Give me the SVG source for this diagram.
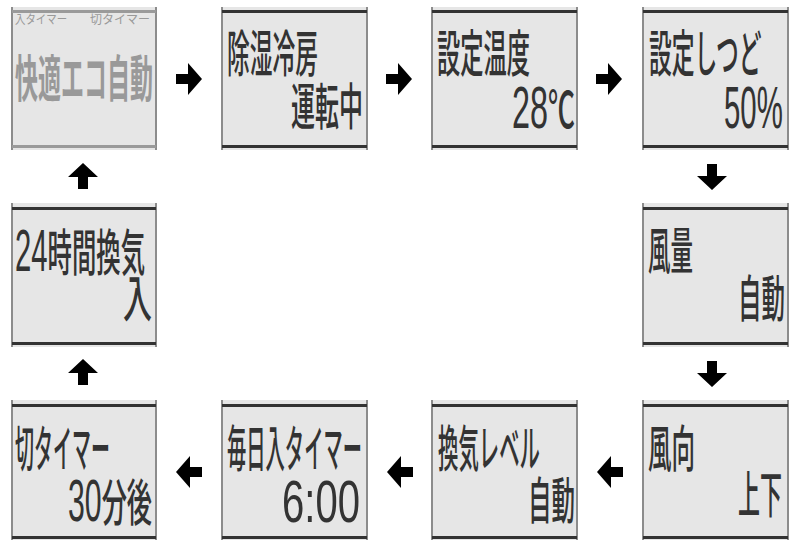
<svg xmlns="http://www.w3.org/2000/svg" width="795" height="540" viewBox="0 0 795 540">
<defs>
<style>
.bg{fill:#e6e6e6}
.side{fill:#8c8c8c}
.bar{fill:#333333}
.bar1{fill:#9a9a9a}
.t{font-family:"Noto Sans CJK JP","Noto Sans",sans-serif;font-size:50px;fill:#333333;font-weight:500}
.t1{font-family:"Noto Sans CJK JP","Noto Sans",sans-serif;font-size:50px;fill:#999999;font-weight:700}
.s{font-family:"Noto Sans CJK JP","Noto Sans",sans-serif;font-size:12px;fill:#999999}
.d{font-family:"Liberation Sans","Noto Sans CJK JP",sans-serif;font-size:60px;font-weight:400}
.arr{fill:#000000}
</style>
</defs>
<rect width="795" height="540" fill="#ffffff"/>

<g id="node-eco">
<rect class="bg" x="12" y="7" width="144" height="143"/>
<rect class="side" x="11" y="7" width="2" height="143"/>
<rect class="side" x="155" y="7" width="2" height="143"/>
<rect class="bar1" x="12" y="10" width="144" height="3"/>
<rect class="bar1" x="12" y="145" width="144" height="3"/>
<text class="s" transform="translate(15,24) scale(0.87,1)">入タイマー</text>
<text class="s" transform="translate(90,24) scale(1.0,1)">切タイマー</text>
<text class="t1" transform="translate(15,97) scale(0.46,1)">快適エコ自動</text>
</g>

<g id="node-dehumid">
<rect class="bg" x="222" y="7" width="145" height="143"/>
<rect class="side" x="221" y="7" width="2" height="143"/>
<rect class="side" x="366" y="7" width="2" height="143"/>
<rect class="bar" x="222" y="10" width="145" height="3"/>
<rect class="bar" x="222" y="145" width="145" height="3"/>
<text class="t" transform="translate(227,72) scale(0.455,1)">除湿冷房</text>
<text class="t" transform="translate(291,125) scale(0.48,1)">運転中</text>
</g>

<g id="node-temp">
<rect class="bg" x="432" y="7" width="145" height="143"/>
<rect class="side" x="431" y="7" width="2" height="143"/>
<rect class="side" x="576" y="7" width="2" height="143"/>
<rect class="bar" x="432" y="10" width="145" height="3"/>
<rect class="bar" x="432" y="145" width="145" height="3"/>
<text class="t" transform="translate(437,72) scale(0.465,1)">設定温度</text>
<text class="t" transform="translate(512,128) scale(0.54,1)"><tspan class="d">28</tspan>℃</text>
</g>

<g id="node-humid">
<rect class="bg" x="643" y="7" width="145" height="143"/>
<rect class="side" x="642" y="7" width="2" height="143"/>
<rect class="side" x="787" y="7" width="2" height="143"/>
<rect class="bar" x="643" y="10" width="145" height="3"/>
<rect class="bar" x="643" y="145" width="145" height="3"/>
<text class="t" transform="translate(649,72) scale(0.456,1)">設定しつど</text>
<text class="t d" transform="translate(724,128) scale(0.49,1)">50%</text>
</g>

<g id="node-fanvol">
<rect class="bg" x="643" y="203" width="145" height="144"/>
<rect class="side" x="642" y="203" width="2" height="144"/>
<rect class="side" x="787" y="203" width="2" height="144"/>
<rect class="bar" x="643" y="207" width="145" height="3"/>
<rect class="bar" x="643" y="342" width="145" height="3"/>
<text class="t" transform="translate(648,269) scale(0.45,1)">風量</text>
<text class="t" transform="translate(738,317) scale(0.47,1)">自動</text>
</g>

<g id="node-fandir">
<rect class="bg" x="643" y="400" width="145" height="140"/>
<rect class="side" x="642" y="400" width="2" height="140"/>
<rect class="side" x="787" y="400" width="2" height="140"/>
<rect class="bar" x="643" y="404" width="145" height="3"/>
<rect class="bar" x="643" y="536" width="145" height="3"/>
<text class="t" transform="translate(648,467) scale(0.47,1)">風向</text>
<text class="t" transform="translate(738,513) scale(0.44,1)">上下</text>
</g>

<g id="node-vent">
<rect class="bg" x="432" y="400" width="145" height="140"/>
<rect class="side" x="431" y="400" width="2" height="140"/>
<rect class="side" x="576" y="400" width="2" height="140"/>
<rect class="bar" x="432" y="404" width="145" height="3"/>
<rect class="bar" x="432" y="536" width="145" height="3"/>
<text class="t" transform="translate(438,467) scale(0.408,1)">換気レベル</text>
<text class="t" transform="translate(528,519) scale(0.47,1)">自動</text>
</g>

<g id="node-ontimer">
<rect class="bg" x="222" y="400" width="145" height="140"/>
<rect class="side" x="221" y="400" width="2" height="140"/>
<rect class="side" x="366" y="400" width="2" height="140"/>
<rect class="bar" x="222" y="404" width="145" height="3"/>
<rect class="bar" x="222" y="536" width="145" height="3"/>
<text class="t" transform="translate(227,467) scale(0.386,1)">毎日入タイマー</text>
<text class="t d" transform="translate(282,522) scale(0.668,1)">6:00</text>
</g>

<g id="node-offtimer">
<rect class="bg" x="12" y="400" width="144" height="140"/>
<rect class="side" x="11" y="400" width="2" height="140"/>
<rect class="side" x="155" y="400" width="2" height="140"/>
<rect class="bar" x="12" y="404" width="144" height="3"/>
<rect class="bar" x="12" y="536" width="144" height="3"/>
<text class="t" transform="translate(15,467) scale(0.38,1)">切タイマー</text>
<text class="t" transform="translate(68,521) scale(0.504,1)"><tspan class="d">30</tspan>分後</text>
</g>

<g id="node-24h">
<rect class="bg" x="12" y="203" width="144" height="144"/>
<rect class="side" x="11" y="203" width="2" height="144"/>
<rect class="side" x="155" y="203" width="2" height="144"/>
<rect class="bar" x="12" y="207" width="144" height="3"/>
<rect class="bar" x="12" y="342" width="144" height="3"/>
<text class="t" transform="translate(15,271) scale(0.4875,1)"><tspan class="d">24</tspan>時間換気</text>
<text class="t" transform="translate(123,317) scale(0.58,1)">入</text>
</g>

<g id="connectors">
<path class="arr" d="M176,74 H188 V63 L202,79 L188,95 V84 H176 Z"/>
<path class="arr" d="M386,74 H398 V63 L412,79 L398,95 V84 H386 Z"/>
<path class="arr" d="M596,74 H608 V63 L622,79 L608,95 V84 H596 Z"/>
<path class="arr" d="M707,164 V176 H697 L712,190 L727,176 H717 V164 Z"/>
<path class="arr" d="M707,361 V373 H697 L712,387 L727,373 H717 V361 Z"/>
<path class="arr" d="M623,467 H611 V456 L597,472 L611,488 V477 H623 Z"/>
<path class="arr" d="M413,467 H401 V456 L387,472 L401,488 V477 H413 Z"/>
<path class="arr" d="M202,467 H190 V456 L176,472 L190,488 V477 H202 Z"/>
<path class="arr" d="M78,385 V373 H68 L83,359 L98,373 H88 V385 Z"/>
<path class="arr" d="M78,189 V177 H68 L83,163 L98,177 H88 V189 Z"/>
</g>
</svg>
